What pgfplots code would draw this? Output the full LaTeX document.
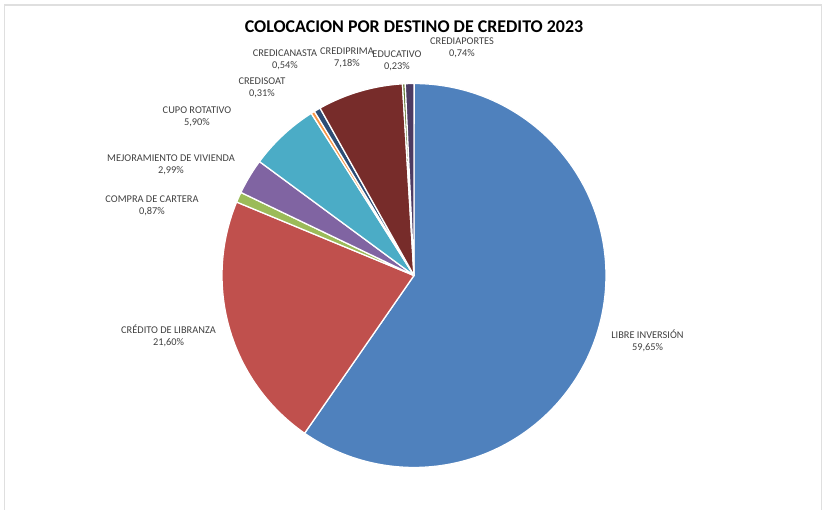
\documentclass[border=0pt]{standalone}
\usepackage{pgfplots}
\pgfplotsset{compat=1.18}
\usepackage{fontspec}
\setmainfont{Carlito}
\definecolor{cA}{HTML}{4F81BD}
\definecolor{cB}{HTML}{C0504D}
\definecolor{cC}{HTML}{9BBB59}
\definecolor{cD}{HTML}{8064A2}
\definecolor{cE}{HTML}{4BACC6}
\definecolor{cF}{HTML}{F79646}
\definecolor{cG}{HTML}{2C4D75}
\definecolor{cH}{HTML}{772C2A}
\definecolor{cI}{HTML}{5F7530}
\definecolor{cJ}{HTML}{4D3B62}
\definecolor{labgray}{HTML}{404040}
\newcommand\lab{\fontsize{10.4}{12}\selectfont\color{labgray}}
% shares (percent)
\def\vA{59.65}\def\vB{21.60}\def\vC{0.87}\def\vD{2.99}\def\vE{5.90}
\def\vF{0.31}\def\vG{0.54}\def\vH{7.18}\def\vI{0.23}\def\vJ{0.74}
\pgfmathsetmacro\aA{90}
\pgfmathsetmacro\aB{\aA-3.6*\vA}
\pgfmathsetmacro\aC{\aB-3.6*\vB}
\pgfmathsetmacro\aD{\aC-3.6*\vC}
\pgfmathsetmacro\aE{\aD-3.6*\vD}
\pgfmathsetmacro\aF{\aE-3.6*\vE}
\pgfmathsetmacro\aG{\aF-3.6*\vF}
\pgfmathsetmacro\aH{\aG-3.6*\vG}
\pgfmathsetmacro\aI{\aH-3.6*\vH}
\pgfmathsetmacro\aJ{\aI-3.6*\vI}
\pgfmathsetmacro\aK{\aJ-3.6*\vJ}
\def\cx{414}\def\cy{234.5}\def\R{192}
\begin{document}
\begin{tikzpicture}
\begin{axis}[hide axis, scale only axis, width=823bp, height=510bp,
  xmin=0, xmax=823, ymin=0, ymax=510, clip=false,
  every axis plot/.append style={draw=white, line width=1.3pt, line join=round}]
\path (axis cs:0,0) rectangle (axis cs:823,510);
\draw[gray!25, line width=1.2pt] (axis cs:4.5,0) -- (axis cs:4.5,505) -- (axis cs:821.5,505) -- (axis cs:821.5,0);
\addplot[fill=cA, domain=\aB:\aA, samples=150, variable=\t] ({\cx+\R*cos(\t)},{\cy+\R*sin(\t)}) -- (axis cs:\cx,\cy) -- cycle;
\addplot[fill=cB, domain=\aC:\aB, samples=60, variable=\t] ({\cx+\R*cos(\t)},{\cy+\R*sin(\t)}) -- (axis cs:\cx,\cy) -- cycle;
\addplot[fill=cC, domain=\aD:\aC, samples=5, variable=\t] ({\cx+\R*cos(\t)},{\cy+\R*sin(\t)}) -- (axis cs:\cx,\cy) -- cycle;
\addplot[fill=cD, domain=\aE:\aD, samples=10, variable=\t] ({\cx+\R*cos(\t)},{\cy+\R*sin(\t)}) -- (axis cs:\cx,\cy) -- cycle;
\addplot[fill=cE, domain=\aF:\aE, samples=20, variable=\t] ({\cx+\R*cos(\t)},{\cy+\R*sin(\t)}) -- (axis cs:\cx,\cy) -- cycle;
\addplot[fill=cF, domain=\aG:\aF, samples=4, variable=\t] ({\cx+\R*cos(\t)},{\cy+\R*sin(\t)}) -- (axis cs:\cx,\cy) -- cycle;
\addplot[fill=cG, domain=\aH:\aG, samples=4, variable=\t] ({\cx+\R*cos(\t)},{\cy+\R*sin(\t)}) -- (axis cs:\cx,\cy) -- cycle;
\addplot[fill=cH, domain=\aI:\aH, samples=25, variable=\t] ({\cx+\R*cos(\t)},{\cy+\R*sin(\t)}) -- (axis cs:\cx,\cy) -- cycle;
\addplot[fill=cI, domain=\aJ:\aI, samples=4, variable=\t] ({\cx+\R*cos(\t)},{\cy+\R*sin(\t)}) -- (axis cs:\cx,\cy) -- cycle;
\addplot[fill=cJ, domain=\aK:\aJ, samples=4, variable=\t] ({\cx+\R*cos(\t)},{\cy+\R*sin(\t)}) -- (axis cs:\cx,\cy) -- cycle;
\node[font=\fontsize{18}{20}\selectfont\bfseries, inner sep=0pt] at (axis cs:414,483) {COLOCACION POR DESTINO DE CREDITO 2023};
\begin{scope}[every node/.style={align=center, inner sep=0pt, font=\lab}]
\node at (axis cs:647.5,169) {LIBRE INVERSIÓN\\59,65\%};
\node at (axis cs:168.5,174) {CRÉDITO DE LIBRANZA\\21,60\%};
\node at (axis cs:152,304) {COMPRA DE CARTERA\\0,87\%};
\node at (axis cs:171,345.5) {MEJORAMIENTO DE VIVIENDA\\2,99\%};
\node at (axis cs:197,393) {CUPO ROTATIVO\\5,90\%};
\node at (axis cs:262,422.5) {CREDISOAT\\0,31\%};
\node at (axis cs:285,450) {CREDICANASTA\\0,54\%};
\node at (axis cs:347,452) {CREDIPRIMA\\7,18\%};
\node at (axis cs:397,449) {EDUCATIVO\\0,23\%};
\node at (axis cs:462,462.5) {CREDIAPORTES\\0,74\%};
\end{scope}
\end{axis}
\end{tikzpicture}
\end{document}
